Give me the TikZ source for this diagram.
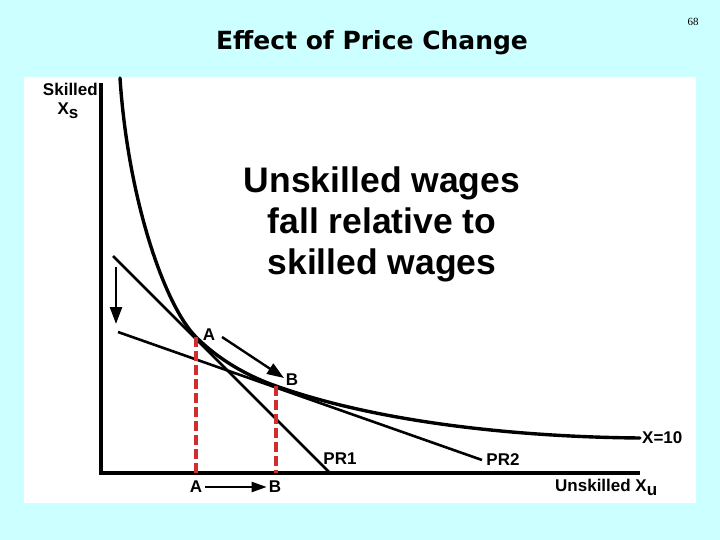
\documentclass[tikz,border=0pt]{standalone}
\usepackage{fontspec}
\setmainfont{Liberation Sans}
\newfontfamily\titlefont{DejaVu Sans}
\newfontfamily\pagefont{Liberation Serif}
\usetikzlibrary{arrows.meta}
\definecolor{slidebg}{RGB}{204,255,255}
\definecolor{dropred}{RGB}{210,45,45}
\newcommand{\lowidx}[1]{\raisebox{-4pt}{#1}}
\tikzset{
  axis/.style={line width=3.2pt},
  isoquant/.style={line width=3.4pt, line cap=round},
  price/.style={line width=2.6pt},
  drop/.style={line width=3.2pt, draw=dropred, dash pattern=on 10pt off 4pt},
  move/.style={line width=2.4pt, -{Triangle[length=17pt,width=12pt]}},
  lbl/.style={font=\fontsize{17}{17}\selectfont\bfseries, inner sep=0pt},
}
\begin{document}
\begin{tikzpicture}[x=1pt,y=-1pt]
  \fill[slidebg] (0,0) rectangle (720,540);
  \fill[white] (24,77) rectangle (696,503);

  \node[font=\titlefont\bfseries\fontsize{25}{25}\selectfont] (title) at (372,43) {Effect of Price Change};
  \node[font=\pagefont\fontsize{11}{11}\selectfont] (page) at (693,22) {68};

  \coordinate (ytop) at (101,83);
  \coordinate (xend) at (640,473);
  \coordinate (A) at (196,337);
  \coordinate (B) at (276,386);
  \coordinate (Ax) at (196,473);
  \coordinate (Bx) at (276,473);
  \coordinate (pr1top) at (113,256);
  \coordinate (pr1end) at (330,473);
  \coordinate (pr2top) at (118,332);
  \coordinate (pr2end) at (482,460);
  \coordinate (dropA) at (116,267);
  \coordinate (dropB) at (116,324);
  \coordinate (slideA) at (222,337);
  \coordinate (slideB) at (284,378);
  \coordinate (curvetop) at (120,78);
  \coordinate (curveend) at (640,438);

  % Axes
  \draw[axis] (ytop) |- (xend);

  % Isoquant
  \draw[isoquant] (curvetop) .. controls (128,200) and (165,306) .. (A)
    .. controls (220,361) and (250,377) .. (B)
    .. controls (380,423) and (520,437) .. (curveend);

  % Price lines
  \draw[price] (pr1top) -- (pr1end);
  \draw[price] (pr2top) -- (pr2end);

  % Drop lines
  \draw[drop] (A) -- (Ax);
  \draw[drop] (B) -- (Bx);

  % Arrows
  \draw[move] (dropA) -- (dropB);
  \draw[move] (slideA) -- (slideB);

  \node[lbl, anchor=east] (skilled) at (98,89) {Skilled};
  \node[lbl] (xs) at (68,111) {X\lowidx{s}};
  \node[lbl] (labA) at (209,335) {A};
  \node[lbl] (labB) at (292,380) {B};
  \node[lbl] (axA) at (196,487) {A};
  \node[lbl] (axB) at (275,487) {B};
  \node[lbl] (pr1) at (340,459) {PR1};
  \node[lbl] (pr2) at (503,460) {PR2};
  \node[lbl, anchor=west] (x10) at (642,438) {X=10};
  \node[lbl, anchor=west] (unskilled) at (555,487) {Unskilled X\lowidx{u}};

  \draw[line width=2.2pt, -{Triangle[length=15pt,width=10pt]}] (axA.east) ++(3,0) -- ([xshift=-2pt]axB.west);

  \node[font=\fontsize{35.5}{41}\selectfont\bfseries, align=center] (note) at (382,224)
    {Unskilled wages\\fall relative to\\skilled wages};
\end{tikzpicture}
\end{document}
